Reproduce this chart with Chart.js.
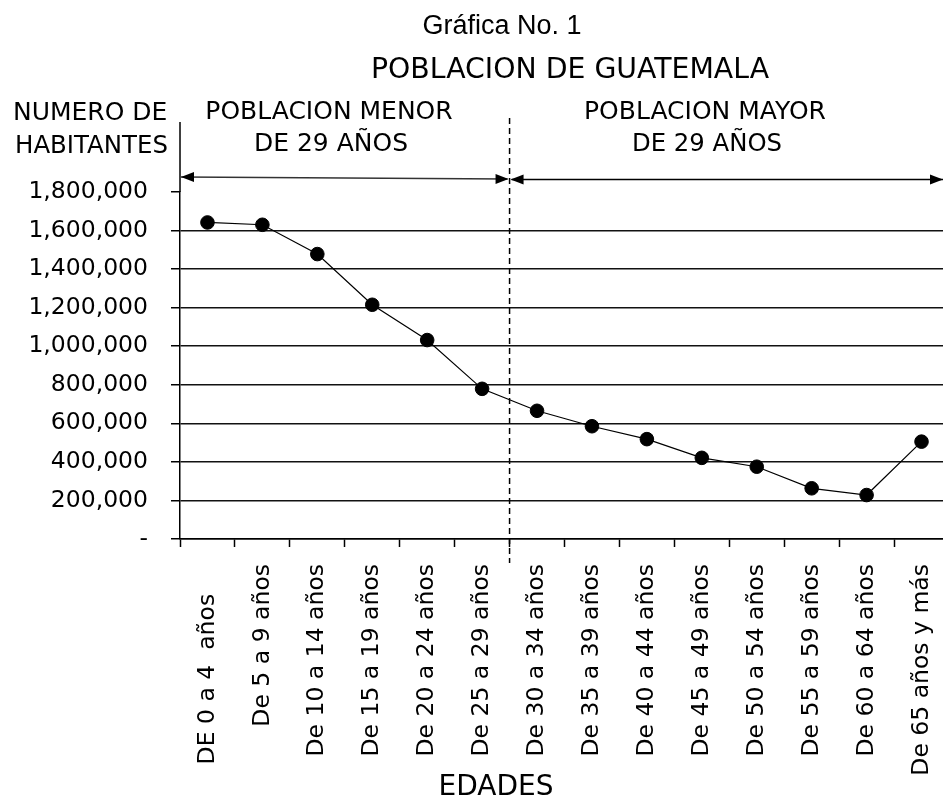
<!DOCTYPE html>
<html><head><meta charset="utf-8">
<script src="https://cdn.jsdelivr.net/npm/chart.js@4.4.1/dist/chart.umd.min.js"></script>
<style>html,body{margin:0;padding:0;overflow:hidden;background:#fff;width:943px;height:796px}canvas{display:block}</style>
</head><body>
<canvas id="c" width="967" height="796" style="width:967px;height:796px"></canvas>
<script>
const categories = ["DE 0 a 4  años    ", "De 5 a 9 años", "De 10 a 14 años", "De 15 a 19 años", "De 20 a 24 años", "De 25 a 29 años", "De 30 a 34 años", "De 35 a 39 años", "De 40 a 44 años", "De 45 a 49 años", "De 50 a 54 años", "De 55 a 59 años", "De 60 a 64 años", "De 65 años y más"];
const habitantes = [1642000, 1630000, 1478000, 1215000, 1032000, 779000, 665000, 585000, 518000, 421000, 375000, 263000, 228000, 505000];
const yMin = 0, yMax = 1800000, yStep = 200000;
const titleText = "Gráfica No. 1";
const subtitleText = "POBLACION DE GUATEMALA";
const yAxisTitle = ["NUMERO DE", "HABITANTES"];
const groupLeft = ["POBLACION MENOR", "DE 29 AÑOS"];
const groupRight = ["POBLACION MAYOR", "DE 29 AÑOS"];
const xAxisTitle = "EDADES";
const splitAfterIndex = 5;

function fmt(v){ if (v === 0) return '-'; return String(v).replace(/\B(?=(\d{3})+(?!\d))/g, ','); }

const annot = {
  id: 'annot',
  afterDraw(chart){
    const {ctx, chartArea: a, scales: {x}} = chart;
    const splitX = (x.getPixelForValue(splitAfterIndex) + x.getPixelForValue(splitAfterIndex + 1)) / 2;
    ctx.save();
    ctx.fillStyle = '#000'; ctx.strokeStyle = '#000';
    ctx.lineWidth = 1.5;
    ctx.beginPath(); ctx.moveTo(a.left, 122); ctx.lineTo(a.left, a.top); ctx.stroke();
    ctx.setLineDash([6, 4]);
    ctx.beginPath(); ctx.moveTo(splitX, 118); ctx.lineTo(splitX, 563); ctx.stroke();
    ctx.setLineDash([]);
    function head(tx, ty, dir){
      ctx.beginPath(); ctx.moveTo(tx, ty);
      ctx.lineTo(tx - dir * 13, ty - 5); ctx.lineTo(tx - dir * 13, ty + 5);
      ctx.closePath(); ctx.fill();
    }
    ctx.strokeStyle = '#333'; ctx.lineWidth = 1.5;
    ctx.beginPath(); ctx.moveTo(a.left + 1, 177); ctx.lineTo(splitX - 2, 179); ctx.stroke();
    head(a.left + 1, 177, -1); head(splitX - 1, 179, 1);
    ctx.strokeStyle = '#000';
    ctx.beginPath(); ctx.moveTo(splitX + 2, 179.5); ctx.lineTo(943, 179.5); ctx.stroke();
    head(splitX + 1, 179.5, -1); head(943, 179.5, 1);
    ctx.textBaseline = 'alphabetic';
    ctx.textAlign = 'center';
    ctx.font = '27px "Liberation Sans", Arial, sans-serif';
    ctx.fillText(titleText, 502, 34);
    ctx.font = '29px "DejaVu Sans", sans-serif';
    ctx.fillText(subtitleText, 570, 78, 398);
    ctx.font = '25px "DejaVu Sans", sans-serif';
    ctx.fillText(groupLeft[0], 329, 119, 255);
    ctx.fillText(groupLeft[1], 331, 151, 154);
    ctx.fillText(groupRight[0], 705, 119, 246);
    ctx.fillText(groupRight[1], 707, 151, 150);
    ctx.textAlign = 'left';
    ctx.fillText(yAxisTitle[0], 13, 120, 157);
    ctx.fillText(yAxisTitle[1], 15, 153, 153);
    ctx.textAlign = 'center';
    ctx.font = '28px "DejaVu Sans", sans-serif';
    ctx.fillText(xAxisTitle, 496, 795);
    ctx.restore();
  }
};

new Chart(document.getElementById('c'), {
  type: 'line',
  data: {
    labels: categories,
    datasets: [{
      data: habitantes,
      borderColor: '#000',
      borderWidth: 1.2,
      backgroundColor: '#000',
      pointBackgroundColor: '#000',
      pointBorderColor: '#000',
      pointBorderWidth: 1,
      pointRadius: 6.8,
      tension: 0,
      fill: false
    }]
  },
  options: {
    responsive: false,
    animation: false,
    devicePixelRatio: 1,
    layout: { padding: { top: 192, left: 0, right: 6, bottom: 0 } },
    plugins: { legend: { display: false }, tooltip: { enabled: false }, title: { display: false } },
    scales: {
      x: {
        type: 'category',
        offset: true,
        grid: { offset: true, drawOnChartArea: false, drawTicks: true, tickLength: 8, tickColor: '#000', tickWidth: 1.5, color: '#000' },
        border: { display: true, color: '#000', width: 1.5 },
        ticks: { autoSkip: false, minRotation: 90, maxRotation: 90, padding: 17, color: '#000', font: { family: 'DejaVu Sans', size: 23.5 } },
        afterFit(s){ s.height = 257; }
      },
      y: {
        min: yMin, max: yMax,
        grid: {
          color: c => (c.tick && c.tick.value === yMax) ? 'rgba(0,0,0,0)' : '#111',
          lineWidth: 1.5, tickLength: 9, tickColor: '#000', tickWidth: 1.5, drawTicks: true
        },
        border: { display: true, color: '#000', width: 1.5 },
        ticks: { stepSize: yStep, padding: 23, color: '#000', font: { family: 'DejaVu Sans', size: 23.5 }, callback: v => fmt(v) },
        afterFit(s){ s.width = 180; }
      }
    }
  },
  plugins: [annot]
});
</script>
</body></html>
